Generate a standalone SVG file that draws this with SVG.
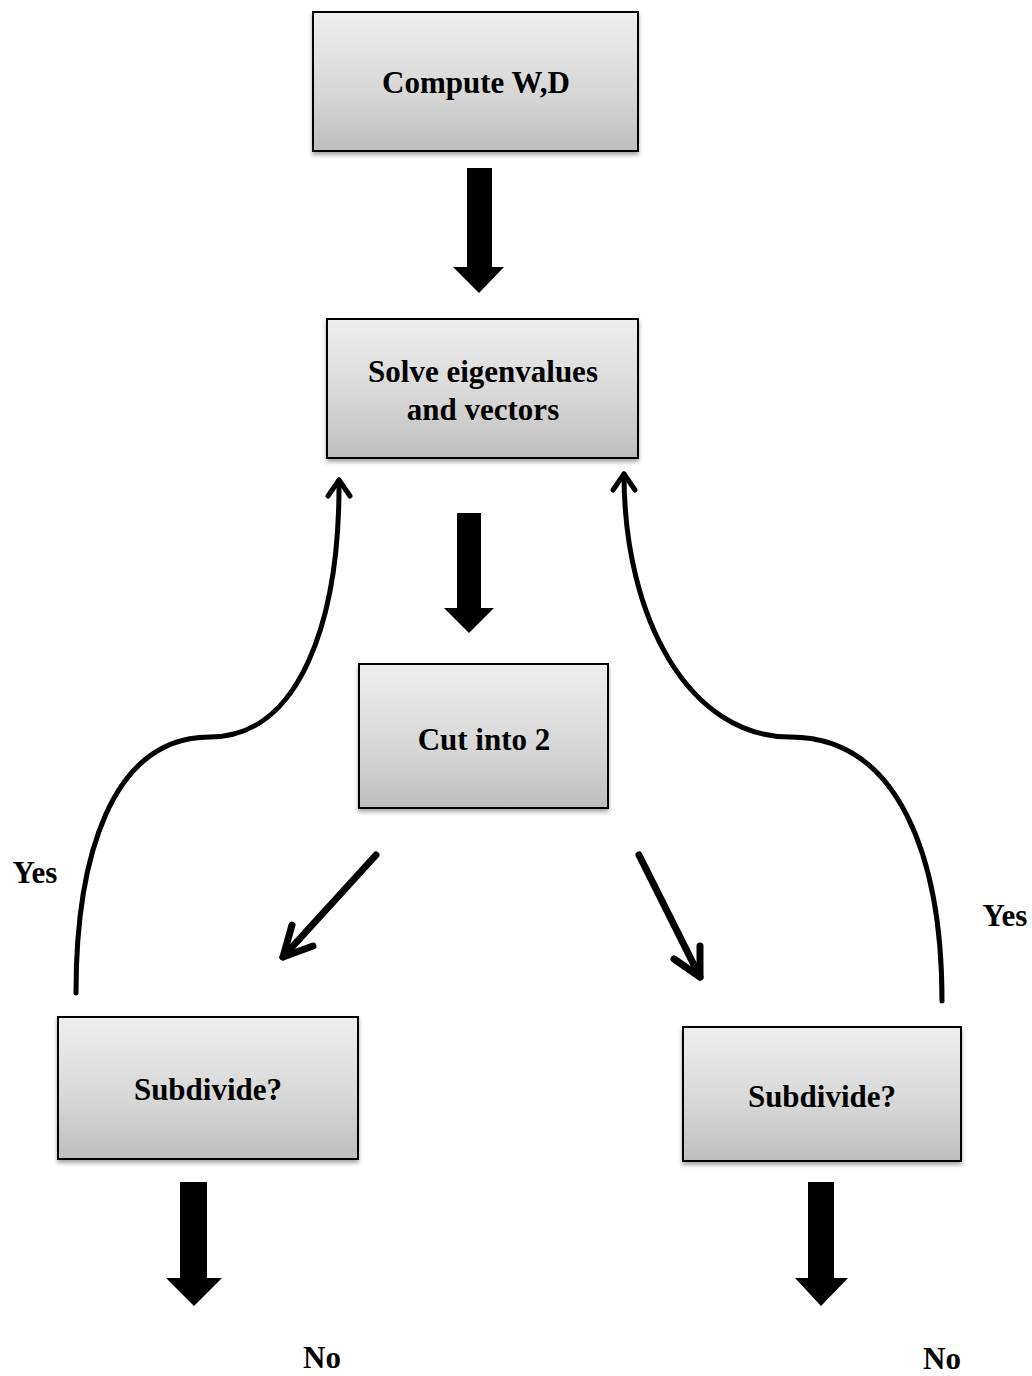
<svg xmlns="http://www.w3.org/2000/svg" width="1032" height="1376" viewBox="0 0 1032 1376">
<defs>
<linearGradient id="g" x1="0" y1="0" x2="0" y2="1">
<stop offset="0" stop-color="#eeeeee"/>
<stop offset="0.6" stop-color="#d6d6d6"/>
<stop offset="1" stop-color="#bdbdbd"/>
</linearGradient>
<filter id="sh" x="-10%" y="-10%" width="120%" height="130%">
<feDropShadow dx="0" dy="3" stdDeviation="2" flood-color="#000" flood-opacity="0.35"/>
</filter>
</defs>
<style>
.box{fill:url(#g);stroke:#000;stroke-width:2;filter:url(#sh)}
.t{font-family:"Liberation Serif","Times New Roman",serif;font-weight:bold;font-size:31px;fill:#000;text-anchor:middle}
.ln{fill:none;stroke:#000;stroke-width:5;stroke-linecap:round;stroke-linejoin:round}
.dg{fill:none;stroke:#000;stroke-width:7;stroke-linecap:round;stroke-linejoin:round}
.blk{fill:#000}
</style>
<rect width="1032" height="1376" fill="#fff"/>
<g id="n1"><rect class="box" x="313" y="12" width="325" height="139"/><text class="t" x="476" y="93">Compute W,D</text></g>
<g id="n2"><rect class="box" x="327" y="319" width="311" height="139"/><text class="t" x="483" y="382">Solve eigenvalues</text><text class="t" x="483" y="420">and vectors</text></g>
<g id="n3"><rect class="box" x="359" y="664" width="249" height="144"/><text class="t" x="484" y="750">Cut into 2</text></g>
<g id="n4"><rect class="box" x="58" y="1017" width="300" height="142"/><text class="t" x="208" y="1100">Subdivide?</text></g>
<g id="n5"><rect class="box" x="683" y="1027" width="278" height="134"/><text class="t" x="822" y="1107">Subdivide?</text></g>
<g id="connectors">
<polygon class="blk" points="467,168 492,168 492,267 504,267 479,293 453,267 467,267"/>
<polygon class="blk" points="457,513 481,513 481,608 494,608 469,633 444,608 457,608"/>
<polygon class="blk" points="180,1182 207,1182 207,1278 222,1278 194,1306 166,1278 180,1278"/>
<polygon class="blk" points="808,1182 834,1182 834,1278 848,1278 821,1306 795,1278 808,1278"/>
<path class="ln" d="M76,993 C76,860 110,737 210,737 C300,737 340,620 339,480"/>
<path class="ln" d="M328,496 L339,480 L350,496"/>
<path class="ln" d="M942,1001 C942,860 900,737 790,737 C690,737 624,620 624,474"/>
<path class="ln" d="M613,490 L624,474 L635,490"/>
<path class="dg" d="M376,855 L283,957"/>
<path class="dg" d="M292,925 L283,957 L313,946"/>
<path class="dg" d="M639,855 L700,977"/>
<path class="dg" d="M700,946 L700,977 L674,959"/>
</g>
<g id="labels">
<text class="t" x="35" y="883">Yes</text>
<text class="t" x="1005" y="926">Yes</text>
<text class="t" x="322" y="1368">No</text>
<text class="t" x="942" y="1369">No</text>
</g>
</svg>
